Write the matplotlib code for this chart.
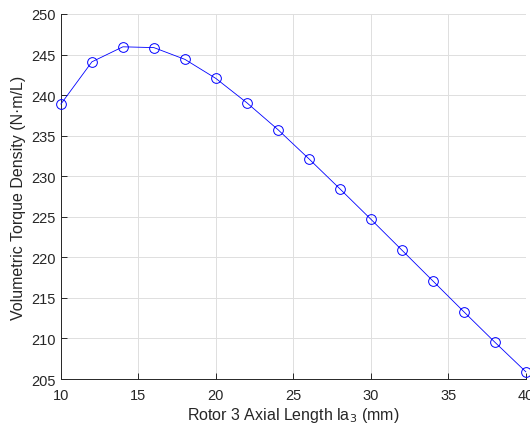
import numpy as np
import matplotlib
matplotlib.use("Agg")
import matplotlib.pyplot as plt

plt.rcParams['font.family'] = ['Liberation Sans', 'DejaVu Sans']

# rotor 3 axial length (mm) and volumetric torque density (N*m/L)
axial_len = [10, 12, 14, 16, 18, 20, 22, 24, 26, 28, 30, 32, 34, 36, 38, 40]
torque_density = [238.9, 244.1, 245.95, 245.85, 244.4, 242.05, 239.05, 235.75,
                  232.15, 228.45, 224.7, 220.9, 217.1, 213.3, 209.55, 205.9]
xticks = [10, 15, 20, 25, 30, 35, 40]
yticks = [205, 210, 215, 220, 225, 230, 235, 240, 245, 250]

fig = plt.figure(figsize=(5.3, 4.27), dpi=100)
ax = fig.add_axes([0.115, 0.11, 0.877, 0.855])

ax.plot(axial_len, torque_density, color='#0000ff', linewidth=0.6,
        marker='o', markersize=7, markerfacecolor='none',
        markeredgecolor='#0000ff', markeredgewidth=0.7, clip_on=False, zorder=3)

ax.set_xlim(10, 40)
ax.set_ylim(205, 250)
ax.set_xticks(xticks)
ax.set_yticks(yticks)

ax.grid(True, color='#dedede', linewidth=0.7)
ax.set_axisbelow(True)
for s in ['top', 'right']:
    ax.spines[s].set_visible(False)
for s in ['left', 'bottom']:
    ax.spines[s].set_color('#262626')
    ax.spines[s].set_linewidth(0.7)
ax.tick_params(direction='in', length=4, width=0.7, colors='#262626',
               labelsize=10.5)
ax.tick_params(axis='x', pad=6.5)

ax.set_xlabel('Rotor 3 Axial Length la$_3$ (mm)', fontsize=11.5, color='#262626',
              labelpad=2)
ax.set_ylabel('Volumetric Torque Density (N·m/L)', fontsize=11.5, color='#262626')

fig.savefig('out.png', dpi=100)
